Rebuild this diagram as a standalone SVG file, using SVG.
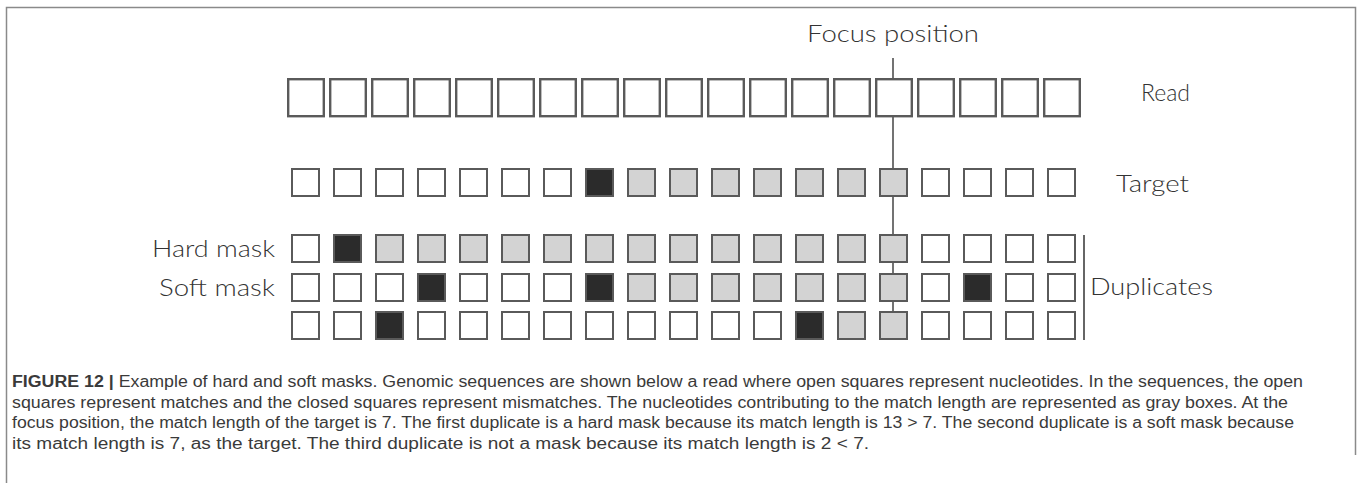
<svg xmlns="http://www.w3.org/2000/svg" width="1363" height="483" viewBox="0 0 1363 483">
<style>
.lbl{font-family:Lato,"Open Sans","DejaVu Sans",sans-serif;font-size:23px;fill:#333;font-weight:300}
.cap{font-family:"Liberation Sans",Arial,sans-serif;font-size:16px;fill:#3a3a3a}
.rd{fill:#fff;stroke:#5a5a5a;stroke-width:2.4}
.w{fill:#fff;stroke:#5a5a5a;stroke-width:2}
.g{fill:#d3d3d3;stroke:#5a5a5a;stroke-width:2}
.b{fill:#2b2b2b;stroke:#5a5a5a;stroke-width:2}
</style>
<rect x="0" y="0" width="1363" height="483" fill="#fff"/>
<path d="M6.5,483 V7.5 H1355.5 V455" fill="none" stroke="#8a8a8a" stroke-width="1.5"/>
<g id="connectors">
<line x1="893" y1="58" x2="893" y2="325" stroke="#444" stroke-width="1.5"/>
<line x1="1084" y1="235" x2="1084" y2="340" stroke="#333" stroke-width="1.5"/>
</g>
<g id="focus-label"><text class="lbl" x="893" y="42" text-anchor="middle" textLength="172" lengthAdjust="spacingAndGlyphs">Focus position</text></g>
<g id="read">
<rect class="rd" x="288.2" y="79.2" width="35.6" height="37"/>
<rect class="rd" x="330.2" y="79.2" width="35.6" height="37"/>
<rect class="rd" x="372.2" y="79.2" width="35.6" height="37"/>
<rect class="rd" x="414.2" y="79.2" width="35.6" height="37"/>
<rect class="rd" x="456.2" y="79.2" width="35.6" height="37"/>
<rect class="rd" x="498.2" y="79.2" width="35.6" height="37"/>
<rect class="rd" x="540.2" y="79.2" width="35.6" height="37"/>
<rect class="rd" x="582.2" y="79.2" width="35.6" height="37"/>
<rect class="rd" x="624.2" y="79.2" width="35.6" height="37"/>
<rect class="rd" x="666.2" y="79.2" width="35.6" height="37"/>
<rect class="rd" x="708.2" y="79.2" width="35.6" height="37"/>
<rect class="rd" x="750.2" y="79.2" width="35.6" height="37"/>
<rect class="rd" x="792.2" y="79.2" width="35.6" height="37"/>
<rect class="rd" x="834.2" y="79.2" width="35.6" height="37"/>
<rect class="rd" x="876.2" y="79.2" width="35.6" height="37"/>
<rect class="rd" x="918.2" y="79.2" width="35.6" height="37"/>
<rect class="rd" x="960.2" y="79.2" width="35.6" height="37"/>
<rect class="rd" x="1002.2" y="79.2" width="35.6" height="37"/>
<rect class="rd" x="1044.2" y="79.2" width="35.6" height="37"/>
<text class="lbl" x="1141" y="101">Read</text>
</g>
<g id="target">
<rect class="w" x="292" y="169" width="27" height="27"/>
<rect class="w" x="334" y="169" width="27" height="27"/>
<rect class="w" x="376" y="169" width="27" height="27"/>
<rect class="w" x="418" y="169" width="27" height="27"/>
<rect class="w" x="460" y="169" width="27" height="27"/>
<rect class="w" x="502" y="169" width="27" height="27"/>
<rect class="w" x="544" y="169" width="27" height="27"/>
<rect class="b" x="586" y="169" width="27" height="27"/>
<rect class="g" x="628" y="169" width="27" height="27"/>
<rect class="g" x="670" y="169" width="27" height="27"/>
<rect class="g" x="712" y="169" width="27" height="27"/>
<rect class="g" x="754" y="169" width="27" height="27"/>
<rect class="g" x="796" y="169" width="27" height="27"/>
<rect class="g" x="838" y="169" width="27" height="27"/>
<rect class="g" x="880" y="169" width="27" height="27"/>
<rect class="w" x="922" y="169" width="27" height="27"/>
<rect class="w" x="964" y="169" width="27" height="27"/>
<rect class="w" x="1006" y="169" width="27" height="27"/>
<rect class="w" x="1048" y="169" width="27" height="27"/>
<text class="lbl" x="1116" y="192" textLength="73" lengthAdjust="spacingAndGlyphs">Target</text>
</g>
<g id="hard-mask">
<rect class="w" x="292" y="235" width="27" height="27"/>
<rect class="b" x="334" y="235" width="27" height="27"/>
<rect class="g" x="376" y="235" width="27" height="27"/>
<rect class="g" x="418" y="235" width="27" height="27"/>
<rect class="g" x="460" y="235" width="27" height="27"/>
<rect class="g" x="502" y="235" width="27" height="27"/>
<rect class="g" x="544" y="235" width="27" height="27"/>
<rect class="g" x="586" y="235" width="27" height="27"/>
<rect class="g" x="628" y="235" width="27" height="27"/>
<rect class="g" x="670" y="235" width="27" height="27"/>
<rect class="g" x="712" y="235" width="27" height="27"/>
<rect class="g" x="754" y="235" width="27" height="27"/>
<rect class="g" x="796" y="235" width="27" height="27"/>
<rect class="g" x="838" y="235" width="27" height="27"/>
<rect class="g" x="880" y="235" width="27" height="27"/>
<rect class="w" x="922" y="235" width="27" height="27"/>
<rect class="w" x="964" y="235" width="27" height="27"/>
<rect class="w" x="1006" y="235" width="27" height="27"/>
<rect class="w" x="1048" y="235" width="27" height="27"/>
<text class="lbl" x="275" y="257" text-anchor="end" textLength="123" lengthAdjust="spacingAndGlyphs">Hard mask</text>
</g>
<g id="soft-mask">
<rect class="w" x="292" y="274" width="27" height="27"/>
<rect class="w" x="334" y="274" width="27" height="27"/>
<rect class="w" x="376" y="274" width="27" height="27"/>
<rect class="b" x="418" y="274" width="27" height="27"/>
<rect class="w" x="460" y="274" width="27" height="27"/>
<rect class="w" x="502" y="274" width="27" height="27"/>
<rect class="w" x="544" y="274" width="27" height="27"/>
<rect class="b" x="586" y="274" width="27" height="27"/>
<rect class="g" x="628" y="274" width="27" height="27"/>
<rect class="g" x="670" y="274" width="27" height="27"/>
<rect class="g" x="712" y="274" width="27" height="27"/>
<rect class="g" x="754" y="274" width="27" height="27"/>
<rect class="g" x="796" y="274" width="27" height="27"/>
<rect class="g" x="838" y="274" width="27" height="27"/>
<rect class="g" x="880" y="274" width="27" height="27"/>
<rect class="w" x="922" y="274" width="27" height="27"/>
<rect class="b" x="964" y="274" width="27" height="27"/>
<rect class="w" x="1006" y="274" width="27" height="27"/>
<rect class="w" x="1048" y="274" width="27" height="27"/>
<text class="lbl" x="275" y="296" text-anchor="end" textLength="116" lengthAdjust="spacingAndGlyphs">Soft mask</text>
</g>
<g id="third-duplicate">
<rect class="w" x="292" y="312" width="27" height="27"/>
<rect class="w" x="334" y="312" width="27" height="27"/>
<rect class="b" x="376" y="312" width="27" height="27"/>
<rect class="w" x="418" y="312" width="27" height="27"/>
<rect class="w" x="460" y="312" width="27" height="27"/>
<rect class="w" x="502" y="312" width="27" height="27"/>
<rect class="w" x="544" y="312" width="27" height="27"/>
<rect class="w" x="586" y="312" width="27" height="27"/>
<rect class="w" x="628" y="312" width="27" height="27"/>
<rect class="w" x="670" y="312" width="27" height="27"/>
<rect class="w" x="712" y="312" width="27" height="27"/>
<rect class="w" x="754" y="312" width="27" height="27"/>
<rect class="b" x="796" y="312" width="27" height="27"/>
<rect class="g" x="838" y="312" width="27" height="27"/>
<rect class="g" x="880" y="312" width="27" height="27"/>
<rect class="w" x="922" y="312" width="27" height="27"/>
<rect class="w" x="964" y="312" width="27" height="27"/>
<rect class="w" x="1006" y="312" width="27" height="27"/>
<rect class="w" x="1048" y="312" width="27" height="27"/>
</g>
<g id="duplicates-label"><text class="lbl" x="1090" y="295" textLength="123" lengthAdjust="spacingAndGlyphs">Duplicates</text></g>
<g id="caption">
<text class="cap" x="12" y="387" textLength="1291" lengthAdjust="spacingAndGlyphs"><tspan font-weight="bold">FIGURE 12 |</tspan> Example of hard and soft masks. Genomic sequences are shown below a read where open squares represent nucleotides. In the sequences, the open</text>
<text class="cap" x="12" y="407.5" textLength="1276" lengthAdjust="spacingAndGlyphs">squares represent matches and the closed squares represent mismatches. The nucleotides contributing to the match length are represented as gray boxes. At the</text>
<text class="cap" x="12" y="428" textLength="1282" lengthAdjust="spacingAndGlyphs">focus position, the match length of the target is 7. The first duplicate is a hard mask because its match length is 13 &gt; 7. The second duplicate is a soft mask because</text>
<text class="cap" x="12" y="448.5" textLength="857" lengthAdjust="spacingAndGlyphs">its match length is 7, as the target. The third duplicate is not a mask because its match length is 2 &lt; 7.</text>
</g>
</svg>
